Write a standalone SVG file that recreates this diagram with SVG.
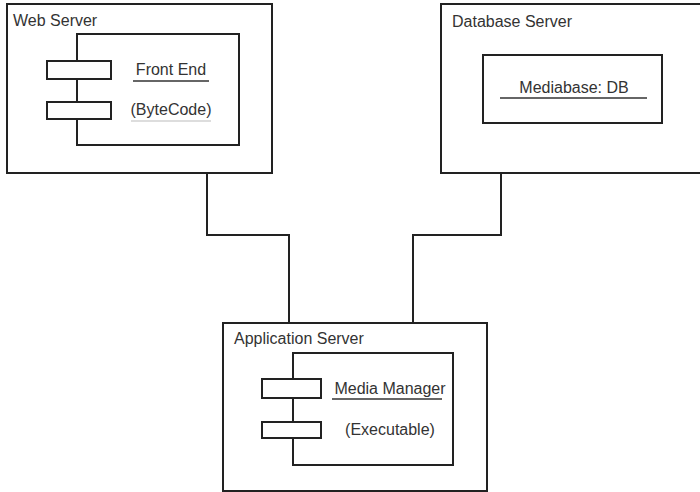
<svg xmlns="http://www.w3.org/2000/svg" width="700" height="492" viewBox="0 0 700 492">
<style>
  .box { fill: #fff; stroke: #222; stroke-width: 2; }
  .port { fill: #fff; stroke: #222; stroke-width: 2; }
  .lbl { font-family: "Liberation Sans", Arial, sans-serif; font-size: 16px; fill: #333; }
  .mid { text-anchor: middle; }
  .ul { stroke: #333; stroke-width: 1.5; }
  .wire { fill: none; stroke: #222; stroke-width: 2; }
</style>
<rect width="700" height="492" fill="#fff"/>
<g id="connectors">
  <polyline class="wire" points="207,173 207,235 289,235 289,323"/>
  <polyline class="wire" points="501,173 501,235 413,235 413,323"/>
</g>
<g id="web-server">
  <rect class="box" x="7" y="4" width="265" height="169"/>
  <text class="lbl" x="13" y="26">Web Server</text>
  <g id="front-end">
    <rect class="box" x="77" y="34" width="162" height="111"/>
    <rect class="port" x="47" y="61" width="64" height="18"/>
    <rect class="port" x="47" y="102" width="64" height="17"/>
    <text class="lbl mid" x="171" y="75">Front End</text>
    <line class="ul" x1="133" y1="81" x2="209" y2="81"/>
    <text class="lbl mid" x="171" y="115">(ByteCode)</text>
    <line x1="131" y1="121" x2="211" y2="121" stroke="#bbb" stroke-width="1"/>
  </g>
</g>
<g id="database-server">
  <rect class="box" x="441" y="4" width="270" height="169"/>
  <text class="lbl" x="452" y="27">Database Server</text>
  <g id="mediabase">
    <rect class="box" x="483" y="55" width="179" height="68"/>
    <text class="lbl mid" x="574" y="93">Mediabase: DB</text>
    <line class="ul" x1="500" y1="98" x2="647" y2="98"/>
  </g>
</g>
<g id="application-server">
  <rect class="box" x="223" y="323" width="264" height="168"/>
  <text class="lbl" x="234" y="344">Application Server</text>
  <g id="media-manager">
    <rect class="box" x="293" y="353" width="160" height="112"/>
    <rect class="port" x="262" y="379" width="59" height="19"/>
    <rect class="port" x="262" y="422" width="59" height="16"/>
    <text class="lbl mid" x="390" y="394">Media Manager</text>
    <line class="ul" x1="332" y1="399" x2="442" y2="399"/>
    <text class="lbl mid" x="390" y="435">(Executable)</text>
  </g>
</g>
</svg>
